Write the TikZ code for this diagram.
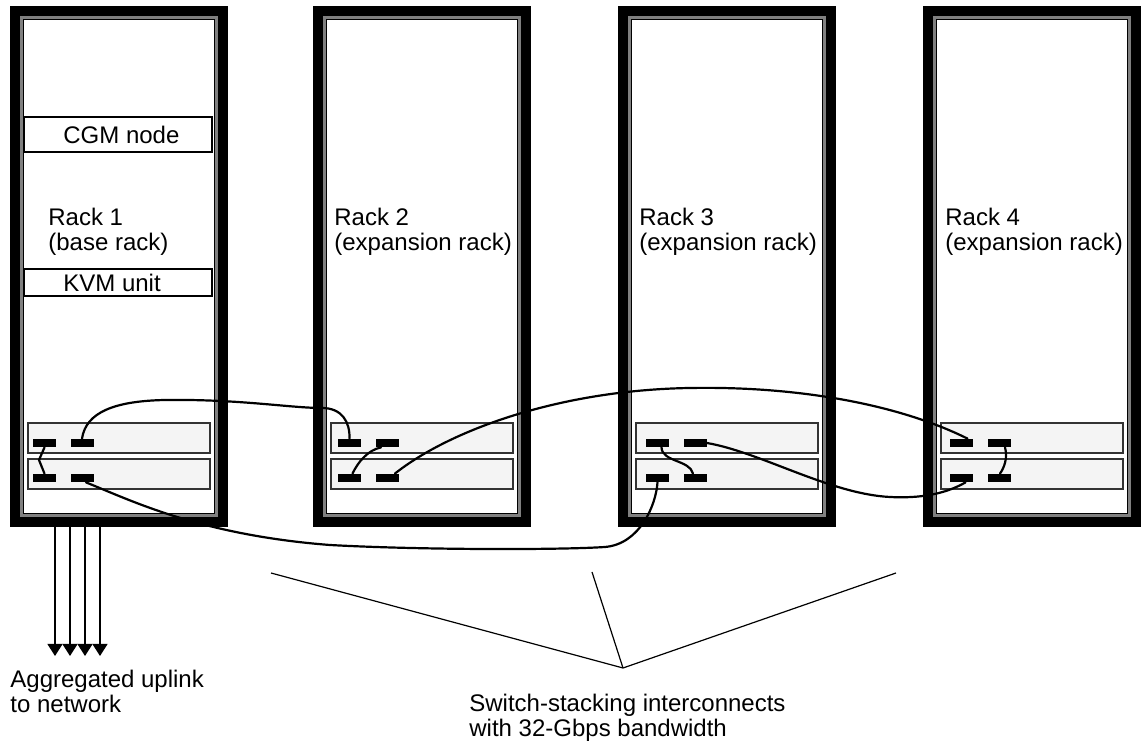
\documentclass[tikz,border=0pt]{standalone}
\usepackage{fontspec}
\setmainfont{Liberation Sans}
\usetikzlibrary{arrows.meta}
\definecolor{switchgray}{HTML}{F4F4F4}
\begin{document}
\begin{tikzpicture}[x=0.5pt,y=-0.5pt,
  port/.style={fill=black,inner sep=0pt,minimum width=11.5pt,minimum height=4pt},
  switchbox/.style={draw=black!80,fill=switchgray,line width=0.7pt},
  unitbox/.style={draw,line width=1pt},
  cable/.style={line width=1.1pt,line cap=round},
  label/.style={font=\fontsize{12}{12.5}\selectfont,inner sep=0pt,align=left,anchor=base west},
  pointer/.style={line width=0.6pt},
  uplink/.style={line width=0.6pt,-{Triangle[width=7.5pt,length=6pt]}}]
\useasboundingbox (0,0) rectangle (1142,742);
\foreach \n/\x/\px/\tx/\sub in {1/10/44.5/38/base rack,2/313/349.5/21/expansion rack,
    3/618/657.5/21/expansion rack,4/923/961.5/22/expansion rack} {
  \fill (\x,6) rectangle ++(218,521);
  \fill[gray] ({\x+10},16) rectangle ({\x+208},517);
  \filldraw[fill=white,line width=0.6pt] ({\x+13.5},19.5) rectangle ({\x+204.5},513.5);
  \draw[switchbox] ({\x+18},423) rectangle ({\x+200},453);
  \draw[switchbox] ({\x+18},459) rectangle ({\x+200},489);
  \node[port] (r\n-t1) at (\px,443) {};
  \node[port] (r\n-t2) at ({\px+37.5},443) {};
  \node[port] (r\n-b1) at (\px,478) {};
  \node[port] (r\n-b2) at ({\px+37.5},478) {};
  \node[label] (rack\n) at ({\x+\tx},251) {Rack \n\\(\sub)};
}
\draw[unitbox] (24,117) rectangle (212,152);
\node[label,anchor=west] (cgm) at (63,134.5) {CGM node};
\draw[unitbox] (24,269) rectangle (212,296);
\node[label,anchor=west] (kvm) at (63,282.5) {KVM unit};
\draw[cable] (r1-t2.north) .. controls (86,412) and (115,401) .. (165,400)
  .. controls (240,399) and (290,408) .. (322,408)
  .. controls (342,408) and (350,422) .. (r2-t1.north);
\draw[cable,line join=round] (r1-t1.south) -- (39,460) -- (r1-b1.north);
\draw[cable] ([xshift=2pt]r1-b2.south) .. controls (130,500) and (200,535) .. (330,545)
  .. controls (420,550) and (560,550) .. (605,547)
  .. controls (640,544) and (656,505) .. (r3-b1.south);
\draw[cable] ([xshift=-3pt]r2-t2.south) .. controls (368,450) and (358,462) .. ([xshift=1.5pt]r2-b1.north);
\draw[cable] ([xshift=-2pt]r2-b2.north east) .. controls (450,430) and (560,390) .. (690,388)
  .. controls (800,386) and (900,405) .. ([xshift=3pt]r4-t1.north);
\draw[cable] ([xshift=2pt]r3-t1.south) .. controls (662,462) and (690,460) .. ([xshift=-1pt]r3-b2.north);
\draw[cable] (r3-t2.east) .. controls (760,452) and (830,494) .. (890,497)
  .. controls (930,499) and (952,490) .. ([xshift=2pt]r4-b1.south);
\draw[cable] ([xshift=3pt]r4-t2.south) .. controls (1008,458) and (1004,468) .. ([xshift=0.5pt]r4-b2.north);
\foreach \u in {55,70,85,100}
  \draw[uplink] (\u,527) -- (\u,656);
\node[label] (uplinktext) at (10,713) {Aggregated uplink\\to network};
\coordinate (apex) at (623,668);
\draw[pointer] (271,573) -- (apex) -- (896,573);
\draw[pointer] (592,572) -- (apex);
\node[label] (stacktext) at (469,737) {Switch-stacking interconnects\\with 32-Gbps bandwidth};
\end{tikzpicture}
\end{document}
